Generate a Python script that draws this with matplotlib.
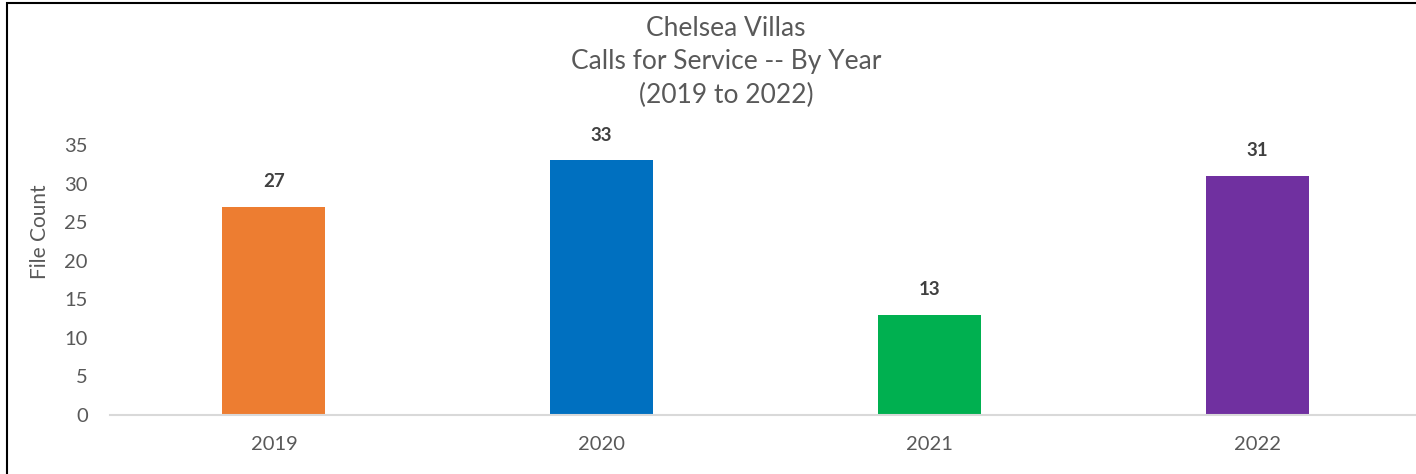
import matplotlib
matplotlib.use("Agg")
import matplotlib.pyplot as plt
from matplotlib.patches import Rectangle

years = ["2019", "2020", "2021", "2022"]
counts = [27, 33, 13, 31]
colors = ["#ED7D31", "#0070C0", "#00B050", "#7030A0"]
title = "Chelsea Villas\nCalls for Service -- By Year\n(2019 to 2022)"
ylabel = "File Count"
yticks = [0, 5, 10, 15, 20, 25, 30, 35]

plt.rcParams['font.family'] = ['Lato', 'DejaVu Sans']

fig = plt.figure(figsize=(14.16, 4.74), dpi=100)
ax = fig.add_axes([110/1416, 59/474, 1311/1416, 270/474])

x = list(range(len(years)))
bars = ax.bar(x, counts, width=0.314, color=colors)
for xi, v in zip(x, counts):
    ax.annotate(str(v), (xi, v), xytext=(0, 12), textcoords="offset points",
                ha="center", va="bottom", fontsize=13.5, fontweight="bold", color="#404040")

ax.set_xlim(-0.5, len(years) - 0.5)
ax.set_ylim(0, 35)
ax.set_yticks(yticks)
ax.set_xticks(x)
ax.set_xticklabels(years)
ax.tick_params(axis="both", length=0, labelsize=14.5, colors="#595959")
ax.tick_params(axis="x", pad=15)
ax.tick_params(axis="y", pad=16)
for s in ["left", "right", "top"]:
    ax.spines[s].set_visible(False)
ax.spines["bottom"].set_color("#D9D9D9")
ax.spines["bottom"].set_linewidth(1.5)

fig.text(40/1416, 1 - 232/474, ylabel, rotation=90, ha="center", va="center",
         fontsize=15, color="#595959")
fig.text(726/1416, 1 - 62/474, title, ha="center", va="center", fontsize=19,
         color="#595959", linespacing=1.4)

fig.patches.append(Rectangle((6.5/1416, -0.1), 1.2, 1.1 - 3.5/474, transform=fig.transFigure,
                             fill=False, edgecolor="black", linewidth=1.5))

fig.savefig("out.png", dpi=100)
